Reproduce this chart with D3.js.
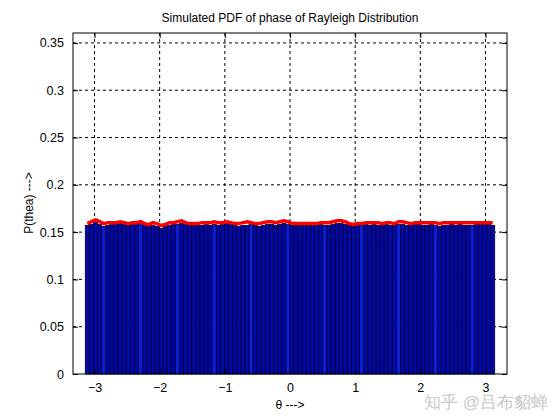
<!DOCTYPE html><html><head><meta charset="utf-8"><script src="https://cdn.jsdelivr.net/npm/d3@7"></script>
<style>body{margin:0;background:#fff}text{font-family:"Liberation Sans",Arial,sans-serif}</style></head><body><svg id="c" width="560" height="420"></svg>
<script>
const xTicks=[-3,-2,-1,0,1,2,3];
const yTicks=[0,0.05,0.1,0.15,0.2,0.25,0.3,0.35];
const barVals=[0.157,0.158,0.160,0.158,0.156,0.157,0.158,0.158,0.159,0.158,0.157,0.158,0.158,0.159,0.157,0.156,0.157,0.156,0.154,0.156,0.157,0.158,0.158,0.159,0.158,0.157,0.157,0.157,0.157,0.158,
0.157,0.158,0.157,0.158,0.159,0.158,0.157,0.156,0.157,0.157,0.158,0.157,0.156,0.157,0.158,0.158,0.157,0.158,0.159,0.158,
0.157,0.157,0.157,0.157,0.157,0.157,0.157,0.158,0.157,0.157,0.158,0.159,0.159,0.158,0.157,0.156,0.157,0.157,0.158,0.157,
0.158,0.157,0.157,0.158,0.157,0.157,0.158,0.158,0.157,0.157,0.158,0.158,0.157,0.157,0.158,0.157,0.156,0.157,0.157,0.158,0.157,0.158,0.157,0.157,0.157,0.158,0.158,0.158,0.158,0.157];
const pdfVals=[0.159,0.161,0.163,0.161,0.159,0.160,0.160,0.160,0.161,0.160,0.159,0.160,0.160,0.161,0.159,0.158,0.160,0.159,0.157,0.158,0.160,0.160,0.161,0.162,0.160,0.159,0.159,0.159,0.160,0.160,
0.160,0.161,0.160,0.160,0.161,0.160,0.159,0.159,0.160,0.161,0.160,0.159,0.159,0.160,0.161,0.161,0.160,0.161,0.162,0.161,
0.159,0.159,0.159,0.159,0.159,0.159,0.159,0.160,0.160,0.160,0.161,0.162,0.162,0.161,0.159,0.158,0.159,0.159,0.160,0.160,
0.160,0.160,0.159,0.160,0.160,0.159,0.161,0.161,0.160,0.159,0.160,0.160,0.160,0.160,0.160,0.160,0.159,0.160,0.160,0.160,0.160,0.160,0.160,0.160,0.160,0.160,0.160,0.160,0.160,0.160];
const N=barVals.length, w=2*Math.PI/N;
const centers=barVals.map((_,i)=>-Math.PI+w*(i+0.5));
const svg=d3.select("#c");
const L=73,R=507,T=33,B=374;
const x=d3.scaleLinear().domain([-3.33,3.33]).range([L,R]);
const y=d3.scaleLinear().domain([0,0.3605]).range([B,T]);
const g=svg.append("g");
g.selectAll(".gx").data(xTicks).join("line").attr("x1",d=>x(d)).attr("x2",d=>x(d)).attr("y1",T).attr("y2",B).attr("stroke","#000").attr("stroke-dasharray","3,3").attr("stroke-width",1);
g.selectAll(".gy").data(yTicks.slice(1)).join("line").attr("x1",L).attr("x2",R).attr("y1",d=>y(d)).attr("y2",d=>y(d)).attr("stroke","#000").attr("stroke-dasharray","3,3").attr("stroke-width",1);
g.selectAll(".b").data(barVals).join("rect").attr("x",(d,i)=>x(centers[i]-w/2)).attr("width",x(w)-x(0)).attr("y",d=>y(d)).attr("height",d=>B-y(d)).attr("fill",(d,i)=>i%9==4?"#0a1ee0":"#0008a8").attr("stroke","#000028").attr("stroke-width",0.8);
g.append("path").datum(pdfVals).attr("d",d3.line().x((d,i)=>x(centers[i])).y(d=>y(d))).attr("fill","none").attr("stroke","#ff0000").attr("stroke-width",3.5);
g.append("rect").attr("x",L).attr("y",T).attr("width",R-L).attr("height",B-T).attr("fill","none").attr("stroke","#000");
const ax=svg.append("g").attr("transform",`translate(0,${B})`).call(d3.axisBottom(x).tickValues(xTicks).tickSize(-5).tickPadding(9).tickFormat(d3.format("d")));
const ay=svg.append("g").attr("transform",`translate(${L},0)`).call(d3.axisLeft(y).tickValues(yTicks).tickSize(-5).tickPadding(9).tickFormat(d=>d===0?"0":String(+d.toFixed(2))));
[ax,ay].forEach(a=>{a.select(".domain").remove();a.selectAll("text").attr("font-size",12.5).attr("fill","#000");a.selectAll("line").attr("stroke","#000");});
svg.append("g").attr("transform",`translate(0,${T})`).call(d3.axisTop(x).tickValues(xTicks).tickSize(-5).tickFormat("")).select(".domain").remove();
svg.append("g").attr("transform",`translate(${R},0)`).call(d3.axisRight(y).tickValues(yTicks).tickSize(-5).tickFormat("")).select(".domain").remove();
svg.append("text").attr("x",290).attr("y",22).attr("text-anchor","middle").attr("font-size",12).text("Simulated PDF of phase of Rayleigh Distribution");
svg.append("text").attr("x",290).attr("y",409).attr("text-anchor","middle").attr("font-size",12).text("θ --->");
svg.append("text").attr("transform","translate(33,203) rotate(-90)").attr("text-anchor","middle").attr("font-size",12).text("P(thea) --->");
svg.append("text").attr("x",548).attr("y",408).attr("text-anchor","end").attr("font-size",17).attr("fill","#c8c8c8").attr("font-family","Noto Sans CJK SC").text("知乎 @吕布貂蝉");
</script></body></html>
